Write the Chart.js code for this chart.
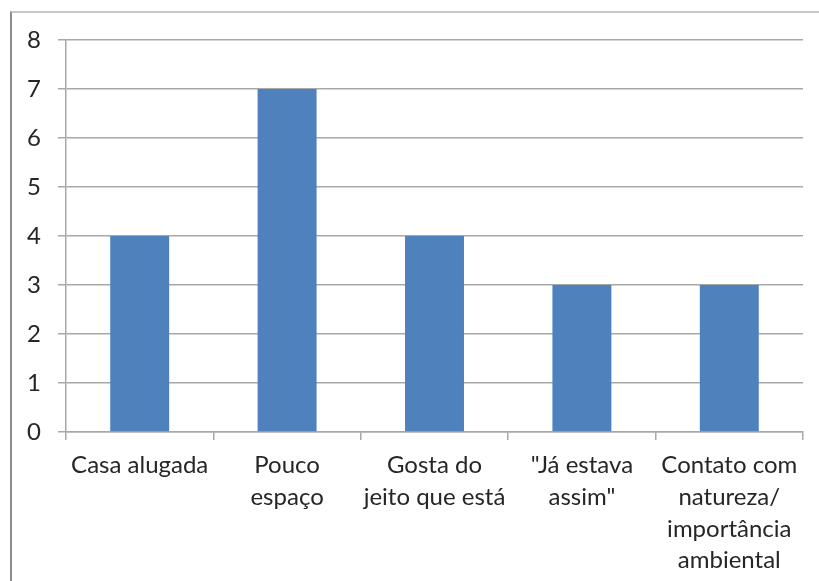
<!DOCTYPE html>
<html>
<head>
<meta charset="utf-8">
<script src="https://cdn.jsdelivr.net/npm/chart.js@4"></script>
<style>
    body { margin: 0; background: #fff; }
    .wrap { position: relative; width: 819px; height: 581px; }
    .frame { position: absolute; left: 10px; top: 11px; width: 809px; height: 570px;
             border-left: 2px solid #8c8c8c; border-top: 2px solid #c8c8c8; }
    canvas { position: absolute; left: 0; top: 0; }
</style>
</head>
<body>
<div class="wrap">
    <div class="frame"></div>
    <canvas id="chart" width="819" height="581"></canvas>
</div>
<script>
const categories = [
    ['Casa alugada'],
    ['Pouco', 'espaço'],
    ['Gosta do', 'jeito que está'],
    ['"Já estava', 'assim"'],
    ['Contato com', 'natureza/', 'importância', 'ambiental']
];
const values = [4, 7, 4, 3, 3];
const yTicks = [0, 1, 2, 3, 4, 5, 6, 7, 8];

const gridColor = '#a8a8a8';
const textColor = '#262626';

new Chart(document.getElementById('chart'), {
    type: 'bar',
    data: {
        labels: categories,
        datasets: [{
            data: values,
            backgroundColor: '#4f81bd',
            borderWidth: 0,
            barPercentage: 1,
            categoryPercentage: 0.4
        }]
    },
    options: {
        responsive: false,
        animation: false,
        layout: { padding: { top: 40, right: 16, left: 0, bottom: 0 } },
        plugins: { legend: { display: false }, tooltip: { enabled: false } },
        scales: {
            y: {
                min: 0,
                max: 8,
                afterFit: s => { s.width = 66; },
                afterBuildTicks: s => { s.ticks = yTicks.map(v => ({ value: v })); },
                grid: { color: gridColor, lineWidth: 1.5, tickLength: 8 },
                border: { color: gridColor, width: 1.5 },
                ticks: { color: textColor, padding: 17, font: { family: 'Lato', size: 24 } }
            },
            x: {
                afterFit: s => { s.height = 149; },
                grid: { display: true, drawOnChartArea: false, offset: true, color: gridColor, lineWidth: 1.5, tickLength: 8 },
                border: { color: gridColor, width: 1.5 },
                ticks: { color: textColor, padding: 9, maxRotation: 0, autoSkip: false, font: { family: 'Lato', size: 24, lineHeight: 1.33 } }
            }
        }
    }
});
</script>
</body>
</html>
